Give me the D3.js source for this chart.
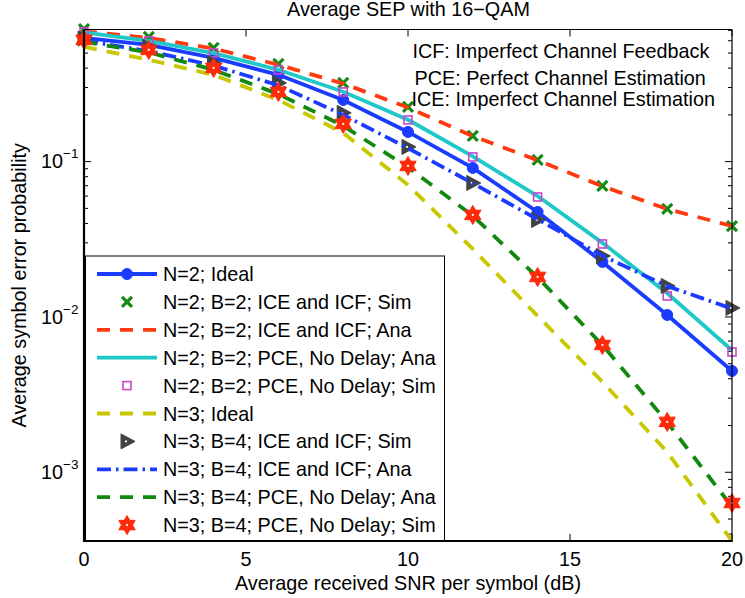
<!DOCTYPE html>
<html>
<head>
<meta charset="utf-8">
<script src="https://cdn.jsdelivr.net/npm/d3@7/dist/d3.min.js"></script>
<style>
  body { margin: 0; background: #fff; }
  svg { display: block; }
  text { font-family: "Liberation Sans", Arial, Helvetica, sans-serif; fill: #000; }
</style>
</head>
<body>
<svg id="chart" width="745" height="598"></svg>
<script>
// SNR grid (dB)
const snrDb = [0, 2, 4, 6, 8, 10, 12, 14, 16, 18, 20];

// N = 2 curves
const n2Ideal      = [0.626, 0.564, 0.465, 0.362, 0.2495, 0.1553, 0.0911, 0.0474, 0.0226, 0.0103, 0.00449];
const n2IceIcfSim  = [0.712, 0.635, 0.540, 0.4256, 0.321, 0.225, 0.1464, 0.1026, 0.0698, 0.0496, 0.0385];
const n2IceIcfAna  = [0.690, 0.626, 0.535, 0.420, 0.318, 0.223, 0.146, 0.102, 0.0695, 0.0495, 0.0385];
const n2PceAna     = [0.680, 0.598, 0.500, 0.390, 0.282, 0.186, 0.108, 0.0600, 0.0300, 0.0142, 0.0061];
const n2PceSim     = [0.684, 0.599, 0.501, 0.3895, 0.281, 0.1855, 0.1072, 0.0592, 0.0295, 0.01365, 0.00595];

// N = 3 curves
const n3Ideal      = [0.548, 0.452, 0.362, 0.2495, 0.153, 0.0708, 0.0274, 0.01015, 0.00382, 0.00135, 0.000361];
const n3IceIcfSim  = [0.620, 0.548, 0.432, 0.321, 0.206, 0.1244, 0.0729, 0.0421, 0.0247, 0.01584, 0.01143];
const n3IceIcfAna  = [0.600, 0.515, 0.415, 0.310, 0.200, 0.122, 0.0725, 0.0425, 0.0248, 0.0158, 0.0113];
const n3PceAna     = [0.590, 0.505, 0.390, 0.272, 0.170, 0.092, 0.0448, 0.0180, 0.0066, 0.0021, 0.00060];
const n3PceSim     = [0.608, 0.524, 0.401, 0.281, 0.175, 0.0938, 0.0454, 0.0181, 0.0066, 0.00211, 0.000634];

const seriesLabels = [
  "N=2; Ideal",
  "N=2; B=2; ICE and ICF; Sim",
  "N=2; B=2; ICE and ICF; Ana",
  "N=2; B=2; PCE, No Delay; Ana",
  "N=2; B=2; PCE, No Delay; Sim",
  "N=3; Ideal",
  "N=3; B=4; ICE and ICF; Sim",
  "N=3; B=4; ICE and ICF; Ana",
  "N=3; B=4; PCE, No Delay; Ana",
  "N=3; B=4; PCE, No Delay; Sim"
];

const xTicks = [0, 5, 10, 15, 20];
const yDecadeExponents = [-3, -2, -1];
const xLimits = [0, 20];
const yLimits = [0.000361, 0.709];

const titleText = "Average SEP with 16\u2212QAM";
const xLabelText = "Average received SNR per symbol (dB)";
const yLabelText = "Average symbol error probability";
const noteLines = [
  "ICF: Imperfect Channel Feedback",
  "PCE: Perfect Channel Estimation",
  "ICE: Imperfect Channel Estimation"
];

// ---- layout ----
const plot = { left: 84, right: 732, top: 29.5, bottom: 541 };
const fontSize = "19.8px";
const svg = d3.select("#chart");

const x = d3.scaleLinear().domain(xLimits).range([plot.left, plot.right]);
const y = d3.scaleLog().domain(yLimits).range([plot.bottom, plot.top]);

// ---- marker shapes ----
function hexagram(R) {
  const r = R / Math.sqrt(3);
  const pts = [];
  for (let i = 0; i < 12; i++) {
    const a = -Math.PI / 2 + i * Math.PI / 6;
    const rad = i % 2 === 0 ? R : r;
    pts.push([rad * Math.cos(a), rad * Math.sin(a)]);
  }
  return "M" + pts.map(p => p.join(",")).join("L") + "Z";
}

const markers = {
  circle: g => {
    g.append("circle").attr("r", 5.5).attr("fill", "#1a3cff").attr("stroke", "#1a3cff").attr("stroke-width", 1);
  },
  cross: g => {
    g.append("path").attr("d", "M-5,-5L5,5M-5,5L5,-5")
      .attr("stroke", "#138a13").attr("stroke-width", 3.2).attr("fill", "none");
  },
  square: g => {
    g.append("rect").attr("x", -4).attr("y", -4).attr("width", 8).attr("height", 8)
      .attr("fill", "none").attr("stroke", "#cc44cc").attr("stroke-width", 1.6);
  },
  triangle: g => {
    g.append("path").attr("d", "M-6,-7.5L-6,7.5L8,0Z")
      .attr("fill", "#424242").attr("stroke", "#424242").attr("stroke-width", 1);
    g.append("circle").attr("cx", -1).attr("r", 1.1).attr("fill", "#fff");
  },
  star: g => {
    g.append("path").attr("d", hexagram(9.5))
      .attr("fill", "#ff2a0a").attr("stroke", "#ff2a0a").attr("stroke-width", 1);
    g.append("circle").attr("r", 1.1).attr("fill", "#fff");
  }
};

// ---- series styling ----
const series = [
  { label: seriesLabels[0], values: n2Ideal,     color: "#1a3cff", width: 3.8, dash: null,         marker: "circle" },
  { label: seriesLabels[1], values: n2IceIcfSim, color: null,      width: 0,   dash: null,         marker: "cross" },
  { label: seriesLabels[2], values: n2IceIcfAna, color: "#ff3a10", width: 3.8, dash: "13,10",      marker: null },
  { label: seriesLabels[3], values: n2PceAna,    color: "#1ec8c8", width: 3.8, dash: null,         marker: null },
  { label: seriesLabels[4], values: n2PceSim,    color: null,      width: 0,   dash: null,         marker: "square" },
  { label: seriesLabels[5], values: n3Ideal,     color: "#c8c800", width: 3.8, dash: "13,10",      marker: null },
  { label: seriesLabels[6], values: n3IceIcfSim, color: null,      width: 0,   dash: null,         marker: "triangle" },
  { label: seriesLabels[7], values: n3IceIcfAna, color: "#1a3cff", width: 3.8, dash: "14,5,2.5,5", marker: null },
  { label: seriesLabels[8], values: n3PceAna,    color: "#12880f", width: 3.8, dash: "13,10",      marker: null },
  { label: seriesLabels[9], values: n3PceSim,    color: null,      width: 0,   dash: null,         marker: "star" }
];

// ---- axes ticks (under the data) ----
const axesG = svg.append("g");

const yTickVals = [];
for (let e = -4; e <= 0; e++) {
  for (let k = 1; k <= 9; k++) {
    const v = k * Math.pow(10, e);
    if (v >= yLimits[0] && v <= yLimits[1]) yTickVals.push({ v, major: k === 1 });
  }
}
yTickVals.forEach(t => {
  const len = t.major ? 7 : 4;
  const py = y(t.v);
  axesG.append("line").attr("x1", plot.left).attr("x2", plot.left + len)
    .attr("y1", py).attr("y2", py).attr("stroke", "#000").attr("stroke-width", 1);
  axesG.append("line").attr("x1", plot.right).attr("x2", plot.right - len)
    .attr("y1", py).attr("y2", py).attr("stroke", "#000").attr("stroke-width", 1);
});
xTicks.forEach(t => {
  const px = x(t);
  axesG.append("line").attr("x1", px).attr("x2", px).attr("y1", plot.bottom).attr("y2", plot.bottom - 7)
    .attr("stroke", "#000").attr("stroke-width", 1);
  axesG.append("line").attr("x1", px).attr("x2", px).attr("y1", plot.top).attr("y2", plot.top + 7)
    .attr("stroke", "#000").attr("stroke-width", 1);
});

// ---- data ----
const line = d3.line().x((d, i) => x(snrDb[i])).y(d => y(d));
const dataG = svg.append("g");
series.forEach(s => {
  if (s.color) {
    dataG.append("path").datum(s.values).attr("d", line)
      .attr("fill", "none").attr("stroke", s.color).attr("stroke-width", s.width)
      .attr("stroke-dasharray", s.dash).attr("stroke-linejoin", "round");
  }
  if (s.marker) {
    s.values.forEach((v, i) => {
      const g = dataG.append("g").attr("transform", `translate(${x(snrDb[i])},${y(v)})`);
      markers[s.marker](g);
    });
  }
});

// ---- axis box: top and right ----
svg.append("line").attr("x1", plot.left).attr("x2", plot.right).attr("y1", plot.top).attr("y2", plot.top)
  .attr("stroke", "#000").attr("stroke-width", 1.2);
svg.append("line").attr("x1", plot.right).attr("x2", plot.right).attr("y1", plot.top).attr("y2", plot.bottom)
  .attr("stroke", "#000").attr("stroke-width", 1.2);

// ---- legend ----
const legend = { left: 85.5, right: 444.5, top: 256, bottom: plot.bottom, firstRow: 274, rowStep: 27.9 };
const legG = svg.append("g");
legG.append("rect").attr("x", legend.left).attr("y", legend.top)
  .attr("width", legend.right - legend.left).attr("height", legend.bottom - legend.top)
  .attr("fill", "#fff").attr("stroke", "#000").attr("stroke-width", 1);
series.forEach((s, i) => {
  const ry = legend.firstRow + i * legend.rowStep;
  if (s.color) {
    legG.append("line").attr("x1", 97).attr("x2", 157).attr("y1", ry).attr("y2", ry)
      .attr("stroke", s.color).attr("stroke-width", s.width).attr("stroke-dasharray", s.dash);
  }
  if (s.marker) {
    markers[s.marker](legG.append("g").attr("transform", `translate(127,${ry})`));
  }
  legG.append("text").attr("x", 163).attr("y", ry + 7).attr("font-size", fontSize).text(s.label);
});

// ---- axis box: left and bottom ----
svg.append("line").attr("x1", plot.left).attr("x2", plot.left).attr("y1", plot.top).attr("y2", plot.bottom + 1)
  .attr("stroke", "#000").attr("stroke-width", 2.2);
svg.append("line").attr("x1", plot.left - 1).attr("x2", plot.right + 0.6).attr("y1", plot.bottom).attr("y2", plot.bottom)
  .attr("stroke", "#000").attr("stroke-width", 2.2);

// ---- tick labels ----
xTicks.forEach(t => {
  svg.append("text").attr("x", x(t)).attr("y", 566).attr("text-anchor", "middle")
    .attr("font-size", fontSize).text(t);
});
yDecadeExponents.forEach(e => {
  const t = svg.append("text").attr("x", 78.5).attr("y", y(Math.pow(10, e)) + 6.6)
    .attr("text-anchor", "end").attr("font-size", fontSize);
  t.append("tspan").text("10");
  t.append("tspan").attr("dy", -10).attr("font-size", "13.5px").text("\u2212" + Math.abs(e));
});

// ---- titles and notes ----
svg.append("text").attr("x", 408.5).attr("y", 16).attr("text-anchor", "middle")
  .attr("font-size", fontSize).text(titleText);
svg.append("text").attr("x", 408).attr("y", 590).attr("text-anchor", "middle")
  .attr("font-size", fontSize).text(xLabelText);
svg.append("text").attr("transform", `translate(26,${(plot.top + plot.bottom) / 2}) rotate(-90)`)
  .attr("text-anchor", "middle").attr("font-size", fontSize).text(yLabelText);

const noteX = [412.5, 414.5, 411.5];
const noteY = [58.3, 85, 106];
noteLines.forEach((s, i) => {
  svg.append("text").attr("x", noteX[i]).attr("y", noteY[i]).attr("font-size", fontSize).text(s);
});
</script>
</body>
</html>
